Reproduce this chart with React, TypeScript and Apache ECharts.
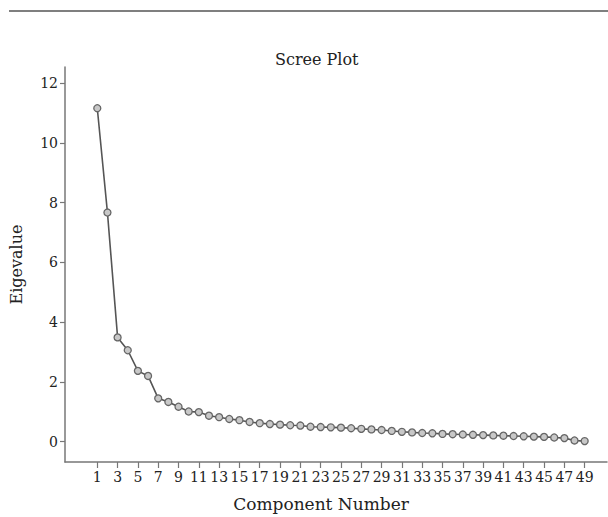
import React, { useEffect, useRef } from "react";
import * as echarts from "echarts";

const components: number[] = Array.from({ length: 49 }, (_, i) => i + 1);
const eigenvalues: number[] = [
  11.16, 7.67, 3.49, 3.06, 2.37, 2.2, 1.45, 1.33, 1.17, 1.01,
  0.99, 0.87, 0.82, 0.76, 0.72, 0.66, 0.62, 0.59, 0.57, 0.55,
  0.54, 0.5, 0.49, 0.48, 0.47, 0.45, 0.43, 0.41, 0.39, 0.36,
  0.33, 0.31, 0.29, 0.28, 0.26, 0.25, 0.24, 0.23, 0.22, 0.21,
  0.2, 0.19, 0.18, 0.17, 0.16, 0.14, 0.12, 0.04, 0.02,
];
const xTicks: number[] = Array.from({ length: 25 }, (_, i) => 1 + i * 2);
const yTicks: number[] = [0, 2, 4, 6, 8, 10, 12];

const FONT = "DejaVu Serif";

export default function App() {
  const ref = useRef<HTMLDivElement>(null);
  useEffect(() => {
    if (!ref.current) return;
    const chart = echarts.init(ref.current, undefined, { renderer: "svg" });
    chart.setOption({
      animation: false,
      backgroundColor: "#ffffff",
      title: {
        text: "Scree Plot",
        left: 270,
        top: 46,
        textStyle: { fontFamily: FONT, fontSize: 16, fontWeight: "normal", color: "#222" },
      },
      graphic: [
        {
          type: "line",
          shape: { x1: 9, y1: 11, x2: 608, y2: 11 },
          style: { stroke: "#555", lineWidth: 1.5 },
        },
      ],
      grid: { left: 59, top: 67, right: 1, bottom: 45, containLabel: false },
      xAxis: {
        type: "value",
        min: -2.18,
        max: 51.2,
        name: "Component Number",
        nameLocation: "middle",
        nameGap: 33,
        nameTextStyle: { fontFamily: FONT, fontSize: 17, color: "#222", padding: [0, 30, 0, 0] },
        axisLine: { show: true, onZero: false, lineStyle: { color: "#777", width: 1.5 } },
        axisTick: { show: true, customValues: xTicks, length: 6, lineStyle: { color: "#777", width: 1.2 } },
        axisLabel: {
          customValues: xTicks,
          margin: 8,
          fontFamily: FONT,
          fontSize: 14,
          color: "#222",
          formatter: (v: number) => String(v),
        },
        splitLine: { show: false },
      },
      yAxis: {
        type: "value",
        min: -0.68,
        max: 12.54,
        name: "Eigevalue",
        nameLocation: "middle",
        nameGap: 41,
        nameRotate: 90,
        nameTextStyle: { fontFamily: FONT, fontSize: 16, color: "#222" },
        axisLine: { show: true, onZero: false, lineStyle: { color: "#777", width: 1.5 } },
        axisTick: { show: true, customValues: yTicks, length: 5, lineStyle: { color: "#777", width: 1.2 } },
        axisLabel: {
          customValues: yTicks,
          margin: 7,
          fontFamily: FONT,
          fontSize: 14,
          color: "#222",
          formatter: (v: number) => String(v),
        },
        splitLine: { show: false },
      },
      series: [
        {
          type: "line",
          data: components.map((c, i) => [c, eigenvalues[i]]),
          symbol: "circle",
          symbolSize: 7,
          showSymbol: true,
          lineStyle: { color: "#555", width: 1.6 },
          itemStyle: { color: "#c8c8c8", borderColor: "#666", borderWidth: 1.3 },
        },
      ],
    });
    return () => chart.dispose();
  }, []);
  return (
    <div
      ref={ref}
      style={{ position: "fixed", left: 0, top: 0, width: 608, height: 517 }}
    />
  );
}
